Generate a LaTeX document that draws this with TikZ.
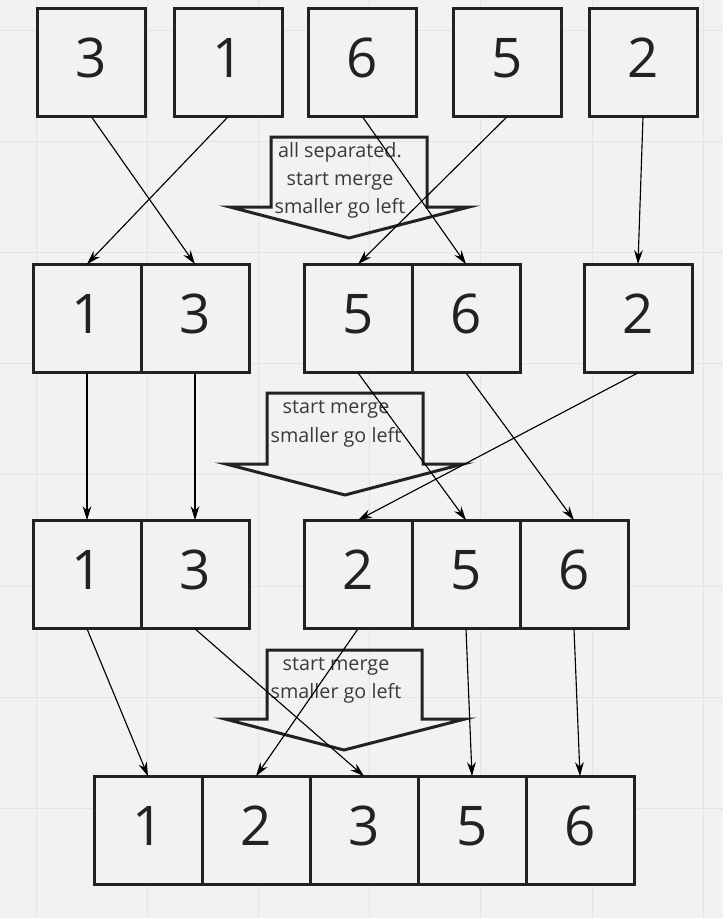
\documentclass[tikz,border=0pt]{standalone}
\usepackage{fontspec}
\setmainfont{Open Sans}
\usetikzlibrary{arrows.meta}
\definecolor{bg}{HTML}{F2F2F2}
\definecolor{gridc}{HTML}{E4E4E4}
\definecolor{ink}{HTML}{222222}
\definecolor{txt}{HTML}{3A3A3A}
\begin{document}
\begin{tikzpicture}[x=0.75pt,y=-0.75pt,
  cell/.style={draw=ink, line width=2.25pt, fill=bg, minimum width=81pt, minimum height=81.5pt,
    inner sep=0pt, outer sep=0pt, font=\fontsize{41}{41}\selectfont, text=ink,
    text height=29.5pt, text depth=7.5pt},
  link/.style={-{Stealth[length=10.5pt,width=6.5pt]}, line width=0.85pt, black},
  bigarrow/.style={draw=ink, line width=2.25pt, line join=miter},
  lbl/.style={anchor=base, inner sep=0pt, font=\fontsize{14.8}{17}\selectfont, text=txt}]
\fill[bg] (0,0) rectangle (723,918);
\useasboundingbox (0,0) rectangle (723,918);
\foreach \k in {0,...,6} {\draw[gridc, line width=0.75pt] ({36+111.2*\k},0) -- ({36+111.2*\k},918);}
\foreach \k in {0,...,7} {\draw[gridc, line width=0.75pt] (0,{30+111.2*\k}) -- (723,{30+111.2*\k});}

% big arrows
\draw[bigarrow] (271,137) -- (427,137) -- (427,207) -- (469,207) -- (349,238) -- (230,207) -- (271,207) -- cycle;
\draw[bigarrow] (267,393) -- (423,393) -- (423,464) -- (463,464) -- (345,495) -- (226,464) -- (267,464) -- cycle;
\draw[bigarrow] (267,650) -- (422,650) -- (422,719) -- (465,719) -- (344,750) -- (225,719) -- (267,719) -- cycle;

\node[lbl] (l1a) at (340,157) {all separated.};
\node[lbl] (l1b) at (340,185) {start merge};
\node[lbl] (l1c) at (340,213) {smaller go left};
\node[lbl] (l2a) at (336,413) {start merge};
\node[lbl] (l2b) at (336,442) {smaller go left};
\node[lbl] (l3a) at (336,670) {start merge};
\node[lbl] (l3b) at (336,698) {smaller go left};

% row 1
\node[cell] (a1) at (91.5,62.5) {3};
\node[cell] (a2) at (228,62.5) {1};
\node[cell] (a3) at (362.5,62.5) {6};
\node[cell] (a4) at (507,62.5) {5};
\node[cell] (a5) at (643,62.5) {2};
% row 2
\node[cell] (b1) at (87,318.5) {1};
\node[cell] (b2) at (195,318.5) {3};
\node[cell] (b3) at (358,318.5) {5};
\node[cell] (b4) at (466,318.5) {6};
\node[cell] (b5) at (638,318.5) {2};
% row 3
\node[cell] (c1) at (87,574.5) {1};
\node[cell] (c2) at (195,574.5) {3};
\node[cell] (c3) at (358,574.5) {2};
\node[cell] (c4) at (466,574.5) {5};
\node[cell] (c5) at (574,574.5) {6};
% row 4
\node[cell] (d1) at (148,830.5) {1};
\node[cell] (d2) at (256,830.5) {2};
\node[cell] (d3) at (364,830.5) {3};
\node[cell] (d4) at (472,830.5) {5};
\node[cell] (d5) at (580,830.5) {6};

% connectors
\draw[link] (a1.south) -- (b2.north);
\draw[link] (a2.south) -- (b1.north);
\draw[link] (a3.south) -- (b4.north);
\draw[link] (a4.south) -- (b3.north);
\draw[link] (a5.south) -- (b5.north);

\draw[link] (b1.south) -- (c1.north);
\draw[link] (b2.south) -- (c2.north);
\draw[link] (b3.south) -- (c4.north);
\draw[link] (b4.south) -- (c5.north);
\draw[link] (b5.south) -- (c3.north);

\draw[link] (c1.south) -- (d1.north);
\draw[link] (c2.south) -- (d3.north);
\draw[link] (c3.south) -- (d2.north);
\draw[link] (c4.south) -- (d4.north);
\draw[link] (c5.south) -- (d5.north);
\end{tikzpicture}
\end{document}
